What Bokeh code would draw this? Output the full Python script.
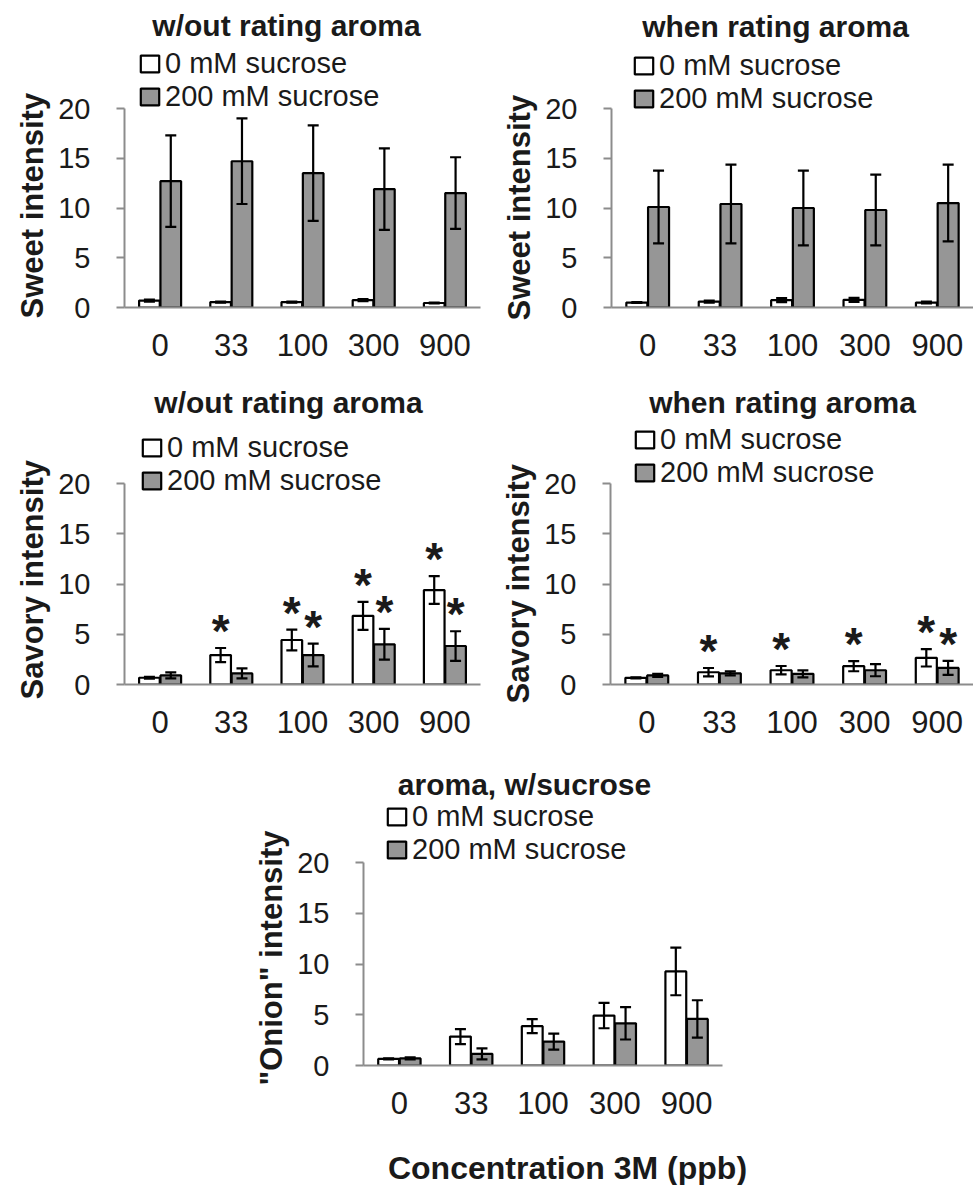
from bokeh.plotting import figure
from bokeh.models import (Range1d, FixedTicker, Label, Legend, LegendItem, Whisker,
                          TeeHead, ColumnDataSource, Spacer, Title)
from bokeh.layouts import column, row
from bokeh.core.properties import value
from bokeh.embed import file_html
from bokeh.resources import INLINE

# ---------------- data ----------------
categories = ["0", "33", "100", "300", "900"]
series_names = ["0 mM sucrose", "200 mM sucrose"]

sweet_wo_0 = [0.70, 0.55, 0.55, 0.75, 0.45]
sweet_wo_0_err = [0.10, 0.05, 0.05, 0.10, 0.05]
sweet_wo_200 = [12.7, 14.7, 13.5, 11.9, 11.5]
sweet_wo_200_err = [4.6, 4.3, 4.8, 4.1, 3.6]

sweet_when_0 = [0.50, 0.60, 0.74, 0.77, 0.50]
sweet_when_0_err = [0.05, 0.10, 0.20, 0.20, 0.10]
sweet_when_200 = [10.1, 10.4, 10.0, 9.8, 10.5]
sweet_when_200_err = [3.65, 3.95, 3.75, 3.55, 3.85]

savory_wo_0 = [0.67, 2.93, 4.43, 6.83, 9.40]
savory_wo_0_err = [0.10, 0.70, 1.03, 1.39, 1.38]
savory_wo_200 = [0.90, 1.10, 2.93, 4.00, 3.83]
savory_wo_200_err = [0.30, 0.50, 1.13, 1.53, 1.47]
savory_wo_0_sig = [0, 1, 1, 1, 1]
savory_wo_200_sig = [0, 0, 1, 1, 1]

savory_when_0 = [0.66, 1.22, 1.42, 1.82, 2.65]
savory_when_0_err = [0.05, 0.42, 0.42, 0.50, 0.86]
savory_when_200 = [0.90, 1.10, 1.06, 1.42, 1.65]
savory_when_200_err = [0.15, 0.20, 0.35, 0.60, 0.70]
savory_when_0_sig = [0, 1, 1, 1, 1]
savory_when_200_sig = [0, 0, 0, 0, 1]

onion_0 = [0.65, 2.85, 3.87, 4.92, 9.27]
onion_0_err = [0.05, 0.74, 0.69, 1.25, 2.35]
onion_200 = [0.70, 1.15, 2.36, 4.16, 4.59]
onion_200_err = [0.10, 0.54, 0.79, 1.60, 1.84]

y_ticks = [0, 5, 10, 15, 20]
Y_MAX = 20

# ---------------- style ----------------
FONT = "Liberation Sans"
TEXT = "#1a1a1a"
GRAY = "#969696"
AXIS = "#8c8c8c"
LW = 2.2


def make_panel(width, ml, mr, top_gap, plot_h, mb, v0, e0, v2, e2, ylabel, ylabel_offset,
               title, title_pos, legend_pos, sig0=None, sig2=None):
    # the frame also covers the header (title + legend) above the 0-20 scale,
    # the axis itself is bounded to 0-20
    y_end = Y_MAX * (1 + top_gap / plot_h)
    p = figure(width=width, height=top_gap + plot_h + mb,
               x_range=Range1d(-0.5, 4.5), y_range=Range1d(0, y_end),
               output_backend="svg", toolbar_location=None,
               min_border_left=ml, min_border_right=mr, min_border_top=0,
               min_border_bottom=mb)
    p.outline_line_color = None
    p.grid.visible = False
    p.border_fill_color = "white"
    p.background_fill_color = "white"

    idx = list(range(len(categories)))
    x0 = [i - 0.15 for i in idx]
    x2 = [i + 0.15 for i in idx]

    r0 = p.vbar(x=x0, top=v0, bottom=0, width=0.29, fill_color="white",
                line_color="black", line_width=LW)
    r2 = p.vbar(x=x2, top=v2, bottom=0, width=0.29, fill_color=GRAY,
                line_color="black", line_width=LW)

    for xs, vs, es in ((x0, v0, e0), (x2, v2, e2)):
        src = ColumnDataSource(dict(x=xs,
                                    lo=[v - e for v, e in zip(vs, es)],
                                    hi=[v + e for v, e in zip(vs, es)]))
        w = Whisker(source=src, base="x", lower="lo", upper="hi",
                    line_color="black", line_width=LW, level="overlay",
                    upper_head=TeeHead(size=11, line_color="black", line_width=LW),
                    lower_head=TeeHead(size=11, line_color="black", line_width=LW))
        p.add_layout(w)

    # significance stars
    sx, sy = [], []
    for xs, vs, es, sg in ((x0, v0, e0, sig0), (x2, v2, e2, sig2)):
        if sg is None:
            continue
        for x, v, e, s in zip(xs, vs, es, sg):
            if s:
                sx.append(x)
                sy.append(v + e)
    if sx:
        p.text(x=sx, y=sy, text=["*"] * len(sx), text_font=value(FONT),
               text_font_size="46px", text_font_style="bold", text_color=TEXT,
               text_align="center", text_baseline="alphabetic", y_offset=-17)

    # x axis
    p.xaxis.ticker = FixedTicker(ticks=idx)
    p.xaxis.major_label_overrides = {i: c for i, c in enumerate(categories)}
    p.xaxis.major_tick_out = 0
    p.xaxis.major_tick_in = 0
    p.xaxis.minor_tick_out = 0
    p.xaxis.minor_tick_in = 0
    p.xaxis.major_label_standoff = 26
    p.xaxis.axis_line_color = AXIS
    p.xaxis.axis_line_width = 2
    p.xaxis.major_label_text_font = FONT
    p.xaxis.major_label_text_font_size = "31px"
    p.xaxis.major_label_text_color = TEXT

    # y axis
    p.yaxis.ticker = FixedTicker(ticks=y_ticks)
    p.yaxis.bounds = (0, Y_MAX)
    p.yaxis.major_tick_out = 8
    p.yaxis.major_tick_in = 0
    p.yaxis.minor_tick_out = 0
    p.yaxis.minor_tick_in = 0
    p.yaxis.major_tick_line_color = AXIS
    p.yaxis.major_tick_line_width = 2
    p.yaxis.axis_line_color = AXIS
    p.yaxis.axis_line_width = 2
    p.yaxis.major_label_standoff = 26
    p.yaxis.major_label_text_font = FONT
    p.yaxis.major_label_text_font_size = "29px"
    p.yaxis.major_label_text_color = TEXT

    # y axis label, placed along the 0-20 scale rather than the whole frame
    p.add_layout(Title(text=ylabel, align="left", offset=ylabel_offset,
                       standoff=12, text_font=FONT, text_font_style="bold",
                       text_font_size="31px", text_color=TEXT), "left")

    # panel title
    p.add_layout(Label(x=title_pos[0], y=title_pos[1], x_units="screen",
                       y_units="screen", text=title, text_font=FONT,
                       text_font_style="bold", text_font_size="30px",
                       text_color=TEXT, text_align="center",
                       text_baseline="middle"))

    # legend
    leg = Legend(items=[LegendItem(label=value(series_names[0]), renderers=[r0]),
                        LegendItem(label=value(series_names[1]), renderers=[r2])],
                 location=legend_pos, orientation="vertical", padding=0, margin=0,
                 spacing=0, glyph_width=23, glyph_height=21, label_standoff=4,
                 label_text_font=FONT, label_text_font_size="29px",
                 label_text_color=TEXT, border_line_color=None,
                 background_fill_alpha=0)
    p.add_layout(leg)
    return p


p1 = make_panel(490, 124, 10, 108, 199, 65, sweet_wo_0, sweet_wo_0_err,
                sweet_wo_200, sweet_wo_200_err, "Sweet intensity", -11,
                "w/out rating aroma", (162, 282), (14, 194))
p2 = make_panel(483, 121, 0, 108, 199, 65, sweet_when_0, sweet_when_0_err,
                sweet_when_200, sweet_when_200_err, "Sweet intensity", -13,
                "when rating aroma", (164, 281), (21, 192))
p3 = make_panel(490, 124, 10, 111, 201, 68, savory_wo_0, savory_wo_0_err,
                savory_wo_200, savory_wo_200_err, "Savory intensity", -15,
                "w/out rating aroma", (164, 282), (16, 187),
                savory_wo_0_sig, savory_wo_200_sig)
p4 = make_panel(483, 120, 0, 111, 201, 68, savory_when_0, savory_when_0_err,
                savory_when_200, savory_when_200_err, "Savory intensity", -19,
                "when rating aroma", (172, 282), (23, 195),
                savory_when_0_sig, savory_when_200_sig)
p5 = make_panel(487, 118, 10, 110, 203, 75, onion_0, onion_0_err,
                onion_200, onion_200_err, "\"Onion\" intensity", -20,
                "aroma, w/sucrose", (161, 281), (22, 199))
p5.frame_align = False

# strip holding the shared x-axis title under the bottom panel
p6 = figure(width=520, height=45, x_range=Range1d(0, 1), y_range=Range1d(0, 1),
            output_backend="svg", toolbar_location=None, min_border=0,
            x_axis_location=None, y_axis_location=None)
p6.frame_align = False
p6.outline_line_color = None
p6.grid.visible = False
p6.add_layout(Label(x=322, y=18, x_units="screen", y_units="screen",
                    text="Concentration 3M (ppb)", text_font=FONT,
                    text_font_style="bold", text_font_size="32px",
                    text_color=TEXT, text_align="center", text_baseline="middle"))

layout = column(row(p1, p2), row(p3, p4),
                row(Spacer(width=245, height=433), column(p5, p6)))

open("out.html", "w").write(file_html(layout, INLINE))
